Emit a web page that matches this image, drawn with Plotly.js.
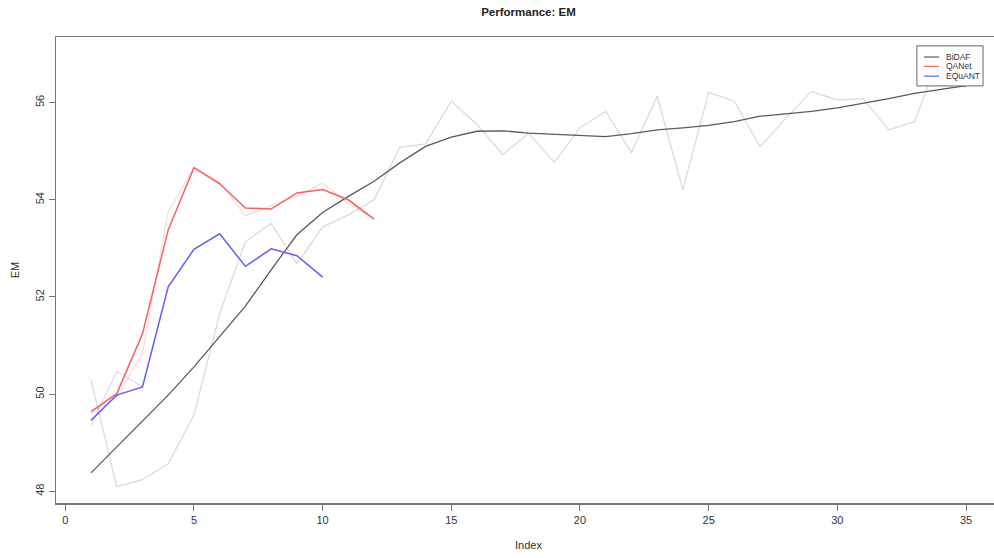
<!DOCTYPE html>
<html>
<head>
<meta charset="utf-8">
<script src="https://cdn.plot.ly/plotly-3.0.1.min.js"></script>
<style>
html,body{margin:0;padding:0;overflow:hidden;background:#fff;width:994px;height:558px;}
#chart{width:1005px;height:558px;}
</style>
</head>
<body>
<div id="chart"></div>
<script>
// Index values
const idxBidaf = [1,2,3,4,5,6,7,8,9,10,11,12,13,14,15,16,17,18,19,20,21,22,23,24,25,26,27,28,29,30,31,32,33,34,35];
const idxQanet = [1,2,3,4,5,6,7,8,9,10,11,12];
const idxEquant = [1,2,3,4,5,6,7,8,9,10];

// BiDAF raw EM
const bidafRaw = [50.29,48.10,48.24,48.57,49.57,51.66,53.14,53.51,52.68,53.44,53.69,54.00,55.08,55.15,56.03,55.55,54.93,55.37,54.77,55.48,55.82,54.97,56.13,54.21,56.21,56.03,55.09,55.68,56.23,56.05,56.08,55.44,55.61,56.99,56.29];
// BiDAF smoothed EM
const bidafSmooth = [48.38,48.91,49.46,49.98,50.56,51.18,51.81,52.56,53.28,53.74,54.07,54.38,54.76,55.10,55.29,55.41,55.42,55.37,55.35,55.32,55.30,55.36,55.44,55.48,55.53,55.61,55.72,55.77,55.82,55.89,55.98,56.08,56.19,56.27,56.35];
// QANet raw and smoothed EM
const qanetRaw = [49.60,49.95,50.84,53.76,54.67,54.36,53.67,53.88,54.08,54.34,53.93,53.60];
const qanetSmooth = [49.64,50.01,51.24,53.38,54.66,54.33,53.83,53.81,54.14,54.21,54.00,53.60];
// EQuANT raw and smoothed EM
const equantRaw = [49.35,50.47,50.15,52.21,52.98,53.30,52.63,52.99,52.85,52.41];
const equantSmooth = [49.46,49.98,50.15,52.21,52.98,53.30,52.63,52.99,52.85,52.41];

const legendNames = ['BiDAF','QANet','EQuANT'];
const legendColors = ['#5a5a5a','#f26464','#6464f0'];

function tr(x, y, color, width) {
  return {x: x, y: y, type: 'scatter', mode: 'lines', line: {color: color, width: width}, hoverinfo: 'skip', showlegend: false};
}

const data = [
  tr(idxBidaf, bidafRaw, '#d8d8d8', 1.2),
  tr(idxQanet, qanetRaw, 'rgba(242,100,100,0.25)', 1.2),
  tr(idxEquant, equantRaw, 'rgba(100,100,240,0.25)', 1.2),
  tr(idxBidaf, bidafSmooth, legendColors[0], 1.3),
  tr(idxQanet, qanetSmooth, legendColors[1], 1.5),
  tr(idxEquant, equantSmooth, legendColors[2], 1.5)
];

const shapes = [
  {type:'rect', xref:'paper', yref:'paper', x0:0.911, x1:0.981, y0:0.895, y1:0.981, line:{color:'#666', width:1}, fillcolor:'#fff', layer:'above'}
];
const annotations = [];
const rowsY = [0.957, 0.937, 0.916];
for (let i = 0; i < legendNames.length; i++) {
  shapes.push({type:'line', xref:'paper', yref:'paper', x0:0.9185, x1:0.9345, y0:rowsY[i], y1:rowsY[i], line:{color:legendColors[i], width:1.2}, layer:'above'});
  annotations.push({xref:'paper', yref:'paper', x:0.940, y:rowsY[i], xanchor:'left', yanchor:'middle', text:legendNames[i], showarrow:false, font:{family:'Liberation Sans, Arial, sans-serif', size:8.5, color:'#333'}});
}

const layout = {
  width: 1005, height: 558,
  margin: {l: 56, r: 4, t: 37, b: 55},
  paper_bgcolor: '#fff', plot_bgcolor: '#fff',
  font: {family: 'Liberation Sans, Arial, sans-serif', size: 11, color: '#333'},
  title: {text: '<b>Performance: EM</b>', x: 0.5, xref: 'paper', y: 0.978, yanchor: 'middle', font: {size: 11.5, color: '#222'}},
  xaxis: {
    range: [-0.36, 36.36], tickvals: [0,5,10,15,20,25,30,35], ticks: 'outside', ticklen: 6, tickcolor: '#777', tickwidth: 1,
    showgrid: false, zeroline: false, showline: true, linecolor: '#777', linewidth: 1.5, mirror: true,
    title: {text: 'Index', standoff: 16, font: {size: 11}}, tickfont: {size: 11}
  },
  yaxis: {
    range: [47.76, 57.35], tickvals: [48,50,52,54,56], ticks: 'outside', ticklen: 6, tickcolor: '#777', tickwidth: 1,
    showgrid: false, zeroline: false, showline: true, linecolor: '#777', linewidth: 1.5, mirror: true,
    tickangle: -90, title: {text: 'EM', standoff: 12, font: {size: 11}}, tickfont: {size: 11}
  },
  shapes: shapes,
  annotations: annotations
};

Plotly.newPlot('chart', data, layout, {staticPlot: true, displayModeBar: false});
</script>
</body>
</html>
